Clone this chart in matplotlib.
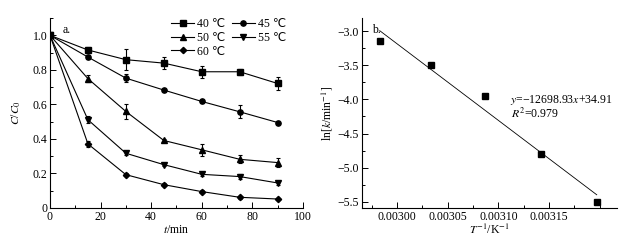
import numpy as np
import matplotlib
matplotlib.use("Agg")
import matplotlib.pyplot as plt
from matplotlib.lines import Line2D
from matplotlib.ticker import MultipleLocator

plt.rcParams['font.family'] = ['Liberation Serif', 'DejaVu Sans']
plt.rcParams['mathtext.fontset'] = 'stix'
plt.rcParams['font.size'] = 8.5

# panel a: C/C0 vs time
t = [0, 15, 30, 45, 60, 75, 90]
labels = ['40 \u2103', '45 \u2103', '50 \u2103', '55 \u2103', '60 \u2103']
markers = ['s', 'o', '^', 'v', 'D']
c40 = [1.0, 0.915, 0.859, 0.839, 0.789, 0.789, 0.721]
c45 = [1.0, 0.874, 0.752, 0.683, 0.617, 0.557, 0.495]
c50 = [1.0, 0.749, 0.559, 0.391, 0.337, 0.282, 0.263]
c55 = [1.0, 0.511, 0.317, 0.251, 0.195, 0.182, 0.145]
c60 = [1.0, 0.371, 0.193, 0.135, 0.095, 0.062, 0.052]
e40 = [0, 0.02, 0.06, 0.035, 0.035, 0.017, 0.035]
e45 = [0, 0.01, 0.025, 0.008, 0.01, 0.038, 0.01]
e50 = [0, 0.02, 0.042, 0.008, 0.035, 0.024, 0.028]
e55 = [0, 0.02, 0.01, 0.01, 0.01, 0.012, 0.01]
e60 = [0, 0.015, 0.008, 0.008, 0.008, 0.008, 0.008]

# panel b: Arrhenius plot
inv_T = [0.002983, 0.003034, 0.003087, 0.003142, 0.003197]
ln_k = [-3.15, -3.50, -3.95, -4.80, -5.50]

fig = plt.figure(figsize=(6.32, 2.47), dpi=100)
ax1 = fig.add_axes([0.0791, 0.1579, 0.4003, 0.769])
ax2 = fig.add_axes([0.5728, 0.1579, 0.4035, 0.769])

handles = []
for ys, es, m, lab in zip([c40, c45, c50, c55, c60], [e40, e45, e50, e55, e60], markers, labels):
    ms = 3.2 if m == 'D' else 3.8
    ax1.errorbar(t, ys, yerr=es, color='k', marker=m, markersize=ms, lw=0.8,
                 elinewidth=0.8, capsize=1.5, capthick=0.8)
    handles.append(Line2D([], [], color='k', marker=m, markersize=ms, lw=0.8, label=lab))

ax1.set_xlim(0, 100)
ax1.set_ylim(0, 1.1)
ax1.xaxis.set_major_locator(MultipleLocator(20))
ax1.xaxis.set_minor_locator(MultipleLocator(10))
ax1.yaxis.set_major_locator(MultipleLocator(0.2))
ax1.yaxis.set_minor_locator(MultipleLocator(0.1))
ax1.set_yticks([0, 0.2, 0.4, 0.6, 0.8, 1.0], ['0', '0.2', '0.4', '0.6', '0.8', '1.0'])
ax1.set_xlabel(r'$t$/min', labelpad=1)
ax1.set_ylabel(r'$C$/$C_0$', labelpad=7)
ax1.text(0.05, 0.97, 'a.', transform=ax1.transAxes, va='top', ha='left')
order = [0, 2, 4, 1, 3]
ax1.legend([handles[i] for i in order], [labels[i] for i in order],
           ncol=2, loc='upper left', bbox_to_anchor=(0.48, 1.0), frameon=False,
           handlelength=1.9, handletextpad=0.25, columnspacing=0.6,
           labelspacing=0.15, borderpad=0, borderaxespad=0)

ax2.plot(inv_T, ln_k, 's', color='k', markersize=3.8)
slope, icpt = np.polyfit(inv_T, ln_k, 1)
xf = np.array([inv_T[0], inv_T[-1]])
ax2.plot(xf, slope * xf + icpt, color='k', lw=0.6)
ax2.set_xlim(0.0029655, 0.003217)
ax2.set_ylim(-5.59, -2.81)
ax2.xaxis.set_major_locator(MultipleLocator(0.00005))
ax2.xaxis.set_minor_locator(MultipleLocator(0.000025))
ax2.yaxis.set_major_locator(MultipleLocator(0.5))
ax2.yaxis.set_minor_locator(MultipleLocator(0.25))
ax2.set_xticks([0.0030, 0.00305, 0.0031, 0.00315],
               ['0.00300', '0.00305', '0.00310', '0.00315'])
ax2.set_yticks([-3.0, -3.5, -4.0, -4.5, -5.0, -5.5],
               ['\u22123.0', '\u22123.5', '\u22124.0', '\u22124.5', '\u22125.0', '\u22125.5'])
ax2.set_xlabel(r'$T^{-1}$/K$^{-1}$', labelpad=0)
ax2.set_ylabel(r'ln[$k$/min$^{-1}$]', labelpad=2)
ax2.text(0.04, 0.97, 'b.', transform=ax2.transAxes, va='top', ha='left')
ax2.text(0.58, 0.555, '$y$=\u221212698.93$x$+34.91', transform=ax2.transAxes)
ax2.text(0.585, 0.475, '$R^2$=0.979', transform=ax2.transAxes)

for ax in (ax1, ax2):
    ax.spines['top'].set_visible(False)
    ax.spines['right'].set_visible(False)
    for s in ('left', 'bottom'):
        ax.spines[s].set_linewidth(0.8)
    ax.tick_params(which='both', direction='in', width=0.7, pad=2)
    ax.tick_params(which='major', length=4)
    ax.tick_params(which='minor', length=2.5)

fig.savefig('out.png', dpi=100)
